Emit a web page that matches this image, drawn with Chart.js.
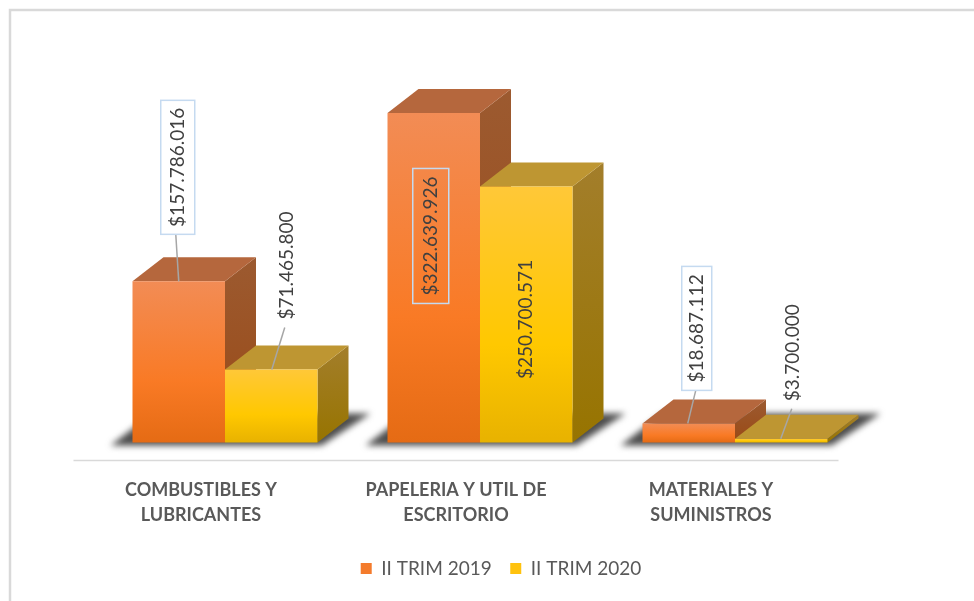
<!DOCTYPE html>
<html>
<head>
<meta charset="utf-8">
<script src="https://cdn.jsdelivr.net/npm/chart.js@4"></script>
<style>
html, body { margin: 0; padding: 0; background: #fff; }
canvas { display: block; filter: blur(0.4px); }
</style>
</head>
<body>
<canvas id="barChart" width="974" height="601"></canvas>
<script>
var categories = [
    ['COMBUSTIBLES Y', 'LUBRICANTES'],
    ['PAPELERIA Y UTIL DE', 'ESCRITORIO'],
    ['MATERIALES Y', 'SUMINISTROS']
];
var seriesNames = ['II TRIM 2019', 'II TRIM 2020'];
var trim2019 = [157786016, 322639926, 18687112];
var trim2020 = [71465800, 250700571, 3700000];

// perspective of the fake 3d boxes
var depthX = 31;
var depthY = -24;

// where each value label sits, relative to the top centre of its bar
var labels2019 = [
    {dx: -1, dy: -114, box: [34, 134], from: [-3, -47], to: [0, 0]},
    {dx: -3, dy: 123, box: [36, 135]},
    {dx: 8, dy: -95, box: [30, 124], from: [7, -33], to: [-1, 0]}
];
var labels2020 = [
    {dx: 15.5, dy: -104, from: [13.5, -42], to: [0.5, 0]},
    {dx: 0, dy: 133},
    {dx: 11.5, dy: -86, from: [10.5, -30], to: [-0.5, 0]}
];

var orange = {
    front: ['#f28c55', '#f97a25', '#e56b14'],
    top: '#b5673d',
    side: ['#9c5a30', '#9a4a16'],
    legend: '#f47b2c'
};
var yellow = {
    front: ['#ffc838', '#ffc800', '#e8b200'],
    top: '#be9632',
    side: ['#a37e2b', '#977400'],
    legend: '#ffc20e'
};

function money(v) {
    return '$' + String(v).replace(/\B(?=(\d{3})+(?!\d))/g, '.');
}

function frontFill(colors) {
    return function(c) {
        var area = c.chart.chartArea;
        if (!area || c.raw === undefined) return colors[1];
        var y = c.chart.scales.y;
        var g = c.chart.ctx.createLinearGradient(0, y.getPixelForValue(c.raw), 0, y.getPixelForValue(0));
        g.addColorStop(0, colors[0]);
        g.addColorStop(0.62, colors[1]);
        g.addColorStop(1, colors[2]);
        return g;
    };
}

function poly(ctx, pts, fill) {
    ctx.beginPath();
    ctx.moveTo(pts[0][0], pts[0][1]);
    for (var i = 1; i < pts.length; i++) ctx.lineTo(pts[i][0], pts[i][1]);
    ctx.closePath();
    ctx.fillStyle = fill;
    ctx.fill();
}

var boxes3d = {
    id: 'boxes3d',
    afterLayout: function(chart) {
        // legend is centred under the floor of the plot, not the page
        chart.legend.left += 21;
        chart.legend.right += 21;
    },
    beforeDatasetsDraw: function(chart) {
        var ctx = chart.ctx;
        var a = chart.getDatasetMeta(0).data;
        var b = chart.getDatasetMeta(1).data;
        var styles = [orange, yellow];

        ctx.save();
        // axis line, pushed to the front of the floor
        ctx.strokeStyle = '#d9d9d9';
        ctx.lineWidth = 1.5;
        ctx.beginPath();
        ctx.moveTo(chart.chartArea.left + depthY, chart.chartArea.bottom);
        ctx.lineTo(chart.chartArea.right + depthY, chart.chartArea.bottom);
        ctx.stroke();

        // floor shadows
        ctx.filter = 'blur(3px)';
        for (var i = 0; i < a.length; i++) {
            var l = a[i].x - a[i].width / 2;
            var r = b[i].x + b[i].width / 2;
            var f = a[i].base + 3;
            poly(ctx, [[l - 22, f], [r + 4, f], [r + depthX + 22, f + depthY - 8], [l + 20, f + depthY - 8]], '#4d4d4d');
        }
        ctx.filter = 'none';

        [a, b].forEach(function(bars, s) {
            var st = styles[s];
            bars.forEach(function(bar) {
                var l = bar.x - bar.width / 2;
                var r = bar.x + bar.width / 2;
                var g = ctx.createLinearGradient(0, bar.y + depthY, 0, bar.base);
                g.addColorStop(0, st.side[0]);
                g.addColorStop(1, st.side[1]);
                poly(ctx, [[r, bar.y], [r + depthX, bar.y + depthY], [r + depthX, bar.base + depthY], [r, bar.base]], g);
                poly(ctx, [[l, bar.y], [l + depthX, bar.y + depthY], [r + depthX, bar.y + depthY], [r, bar.y]], st.top);
            });
        });
        ctx.restore();
    },
    afterDatasetsDraw: function(chart) {
        var ctx = chart.ctx;
        [labels2019, labels2020].forEach(function(list, s) {
            var bars = chart.getDatasetMeta(s).data;
            var values = chart.data.datasets[s].data;
            list.forEach(function(lab, i) {
                var bar = bars[i];
                var cx = bar.x + lab.dx;
                var cy = bar.y + lab.dy;
                ctx.save();
                if (lab.from) {
                    ctx.strokeStyle = '#a6a6a6';
                    ctx.lineWidth = 1.5;
                    ctx.beginPath();
                    ctx.moveTo(bar.x + lab.from[0], bar.y + lab.from[1]);
                    ctx.lineTo(bar.x + lab.to[0], bar.y + lab.to[1]);
                    ctx.stroke();
                }
                if (lab.box) {
                    var w = lab.box[0], h = lab.box[1];
                    if (lab.from) {
                        ctx.fillStyle = '#ffffff';
                        ctx.fillRect(cx - w / 2, cy - h / 2, w, h);
                    }
                    ctx.strokeStyle = '#c5daf0';
                    ctx.lineWidth = 1.5;
                    ctx.strokeRect(cx - w / 2, cy - h / 2, w, h);
                }
                ctx.translate(cx, cy);
                ctx.rotate(-Math.PI / 2);
                ctx.font = '19px Lato';
                ctx.textAlign = 'center';
                ctx.textBaseline = 'middle';
                ctx.fillStyle = '#404040';
                ctx.fillText(money(values[i]), 0, 0);
                ctx.restore();
            });
        });
    }
};

// outer frame of the pasted picture
var frame = {
    id: 'frame',
    beforeDraw: function(chart) {
        var ctx = chart.ctx;
        ctx.save();
        ctx.strokeStyle = '#d9d9d9';
        ctx.lineWidth = 2.5;
        ctx.beginPath();
        ctx.moveTo(10, 601);
        ctx.lineTo(10, 10);
        ctx.lineTo(974, 10);
        ctx.stroke();
        ctx.restore();
    }
};

Chart.defaults.font.family = 'Lato';
Chart.defaults.color = '#595959';

var ctx = document.getElementById('barChart').getContext('2d');
new Chart(ctx, {
    type: 'bar',
    data: {
        labels: categories,
        datasets: [
            {label: seriesNames[0], data: trim2019, backgroundColor: frontFill(orange.front), categoryPercentage: 0.7255, barPercentage: 1},
            {label: seriesNames[1], data: trim2020, backgroundColor: frontFill(yellow.front), categoryPercentage: 0.7255, barPercentage: 1}
        ]
    },
    plugins: [frame, boxes3d],
    options: {
        responsive: false,
        animation: false,
        layout: {padding: {left: 97.5, right: 111.5, top: 60, bottom: 13}},
        plugins: {
            tooltip: {enabled: false},
            legend: {
                position: 'bottom',
                labels: {
                    boxWidth: 11,
                    boxHeight: 11,
                    padding: 18.5,
                    font: {size: 19},
                    generateLabels: function(chart) {
                        return seriesNames.map(function(name, i) {
                            return {
                                text: name,
                                datasetIndex: i,
                                fillStyle: i === 0 ? orange.legend : yellow.legend,
                                strokeStyle: 'transparent',
                                lineWidth: 0,
                                fontColor: '#595959'
                            };
                        });
                    }
                }
            }
        },
        scales: {
            x: {
                grid: {display: false},
                border: {display: false},
                afterFit: function(scale) { scale.height = 80; },
                ticks: {
                    autoSkip: false,
                    maxRotation: 0,
                    minRotation: 0,
                    padding: 9,
                    labelOffset: -24,
                    color: '#595959',
                    font: {size: 18, weight: 'bold', lineHeight: 1.39}
                }
            },
            y: {
                display: false,
                min: -17650000,
                max: 374500000
            }
        }
    }
});
</script>
</body>
</html>
